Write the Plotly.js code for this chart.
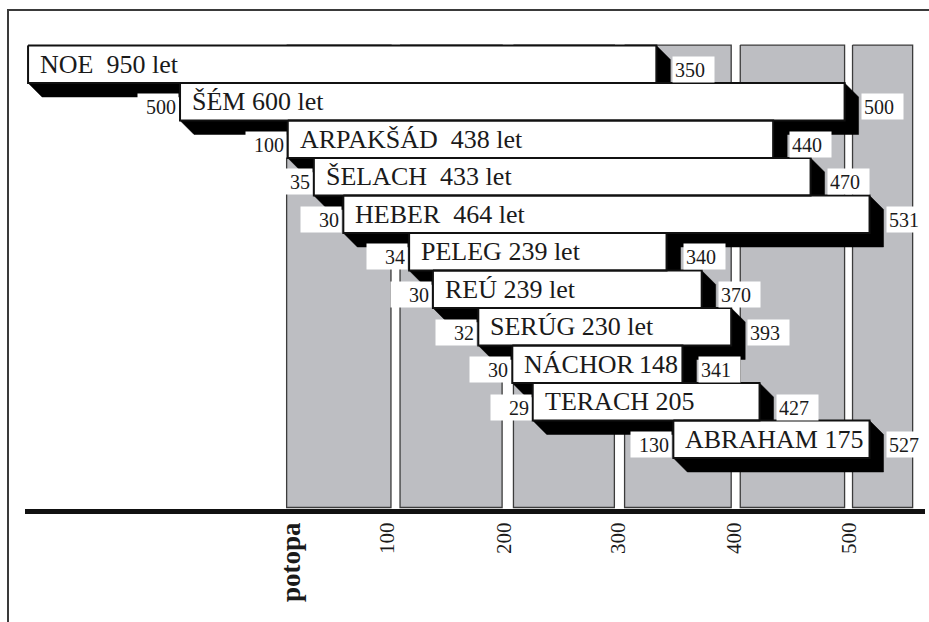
<!DOCTYPE html>
<html>
<head>
<meta charset="utf-8">
<script src="https://cdn.plot.ly/plotly-3.0.1.min.js"></script>
<style>html,body{margin:0;padding:0;background:#fff;}#chart{width:929px;height:622px;}</style>
</head>
<body>
<div id="chart"></div>
<script>
// ---- data (years counted from the Flood, "potopa" = 0; positions as drawn) ----
const barLabels = ['NOE\u00a0\u00a0950 let', 'ŠÉM 600 let', 'ARPAKŠÁD\u00a0\u00a0438 let', 'ŠELACH\u00a0\u00a0433 let',
  'HEBER\u00a0\u00a0464 let', 'PELEG 239 let', 'REÚ 239 let', 'SERÚG 230 let', 'NÁCHOR\u2009148', 'TERACH 205', 'ABRAHAM 175'];
const barStart = [-224, -90, 5, 28, 54, 112, 133, 173, 203, 221, 345];
const barEnd   = [330, 496, 433, 466, 518, 339, 370, 396, 353, 421, 518];
const fatherAge = ['', '500', '100', '35', '30', '34', '30', '32', '30', '29', '130'];
const deathYear = ['350', '500', '440', '470', '531', '340', '370', '393', '341', '427', '527'];
const colStart = [4, 104, 204, 302, 404, 503];
const colEnd   = [96, 194, 293, 396, 496, 556];
const tickPos  = [10, 93, 196, 296, 399, 500];
const tickText = ['<b><span style="font-size:27px">potopa</span></b>', '100', '200', '300', '400', '500'];

// ---- styling / geometry ----
const W = 929, H = 622;
const M = {l: 25, r: 4, t: 30, b: 113};
const xRange = [-226.7, 566.9];
const yRange = [11.86, -0.913];
const pxPerYear = (W - M.l - M.r) / (xRange[1] - xRange[0]);
const pxPerRow = (H - M.t - M.b) / (yRange[0] - yRange[1]);
const SH = 14; // shadow offset in px
const dxS = SH / pxPerYear, dyS = SH / pxPerRow;
const FONT = 'Liberation Serif, DejaVu Serif, serif';

const traces = [];
// gray columns
{
  const xs = [], ys = [];
  const top = -0.51, bot = yRange[0] - 0.04;
  colStart.forEach((s, k) => {
    const e = colEnd[k];
    xs.push(s, e, e, s, s, null);
    ys.push(top, top, bot, bot, top, null);
  });
  traces.push({type: 'scatter', mode: 'lines', x: xs, y: ys, fill: 'toself',
    fillcolor: '#bdbec2', line: {color: '#3c3c3c', width: 1.3}, hoverinfo: 'skip'});
}
// shadows
{
  const xs = [], ys = [];
  barStart.forEach((s, i) => {
    const e = barEnd[i], y0 = i - 0.5, y1 = i + 0.5;
    xs.push(s, e, e + dxS, e + dxS, s + dxS, s, s, null);
    ys.push(y0, y0, y0 + dyS, y1 + dyS, y1 + dyS, y1, y0, null);
  });
  traces.push({type: 'scatter', mode: 'lines', x: xs, y: ys, fill: 'toself',
    fillcolor: '#000', line: {color: '#000', width: 0.5}, hoverinfo: 'skip'});
}
// white bars
{
  const xs = [], ys = [];
  barStart.forEach((s, i) => {
    const e = barEnd[i], y0 = i - 0.5, y1 = i + 0.5;
    xs.push(s, e, e, s, s, null);
    ys.push(y0, y0, y1, y1, y0, null);
  });
  traces.push({type: 'scatter', mode: 'lines', x: xs, y: ys, fill: 'toself',
    fillcolor: '#fff', line: {color: '#111', width: 2}, hoverinfo: 'skip'});
}

const annotations = [];
barLabels.forEach((t, i) => {
  annotations.push({x: barStart[i], y: i, xref: 'x', yref: 'y', text: t, showarrow: false,
    xanchor: 'left', yanchor: 'middle', xshift: 10, yshift: 0,
    font: {family: FONT, size: 26, color: '#1a1a1a'}});
  if (fatherAge[i]) {
    annotations.push({x: barStart[i], y: i + 0.5, xref: 'x', yref: 'y', text: fatherAge[i], showarrow: false,
      xanchor: 'right', yanchor: 'bottom', xshift: -1, yshift: 0, width: 36, height: 21, borderpad: 2,
      align: 'right', bgcolor: '#fff', font: {family: FONT, size: 20, color: '#1a1a1a'}});
  }
  annotations.push({x: barEnd[i] + dxS, y: i + 0.5, xref: 'x', yref: 'y', text: deathYear[i], showarrow: false,
    xanchor: 'left', yanchor: 'bottom', xshift: 2, yshift: 0, width: 37, height: 21, borderpad: 2,
    align: 'left', bgcolor: '#fff', font: {family: FONT, size: 20, color: '#1a1a1a'}});
});

const layout = {
  width: W, height: H, margin: M,
  paper_bgcolor: '#fff', plot_bgcolor: '#fff', showlegend: false,
  font: {family: FONT},
  xaxis: {range: xRange, showgrid: false, zeroline: false, showline: true, linewidth: 5, linecolor: '#111',
    tickmode: 'array', tickvals: tickPos, ticktext: tickText, tickangle: -90, ticks: '',
    tickfont: {family: FONT, size: 21, color: '#1a1a1a'}, fixedrange: true},
  yaxis: {range: yRange, visible: false, showgrid: false, zeroline: false, fixedrange: true},
  annotations: annotations,
  shapes: [{type: 'rect', xref: 'paper', yref: 'paper',
    x0: (8 - M.l) / (W - M.l - M.r), x1: 1.05,
    y0: -0.4, y1: (H - M.b - 10) / (H - M.t - M.b),
    line: {color: '#3a3a3a', width: 2}, fillcolor: 'rgba(0,0,0,0)', layer: 'below'}]
};

Plotly.newPlot('chart', traces, layout, {staticPlot: true, displayModeBar: false});
</script>
</body>
</html>
